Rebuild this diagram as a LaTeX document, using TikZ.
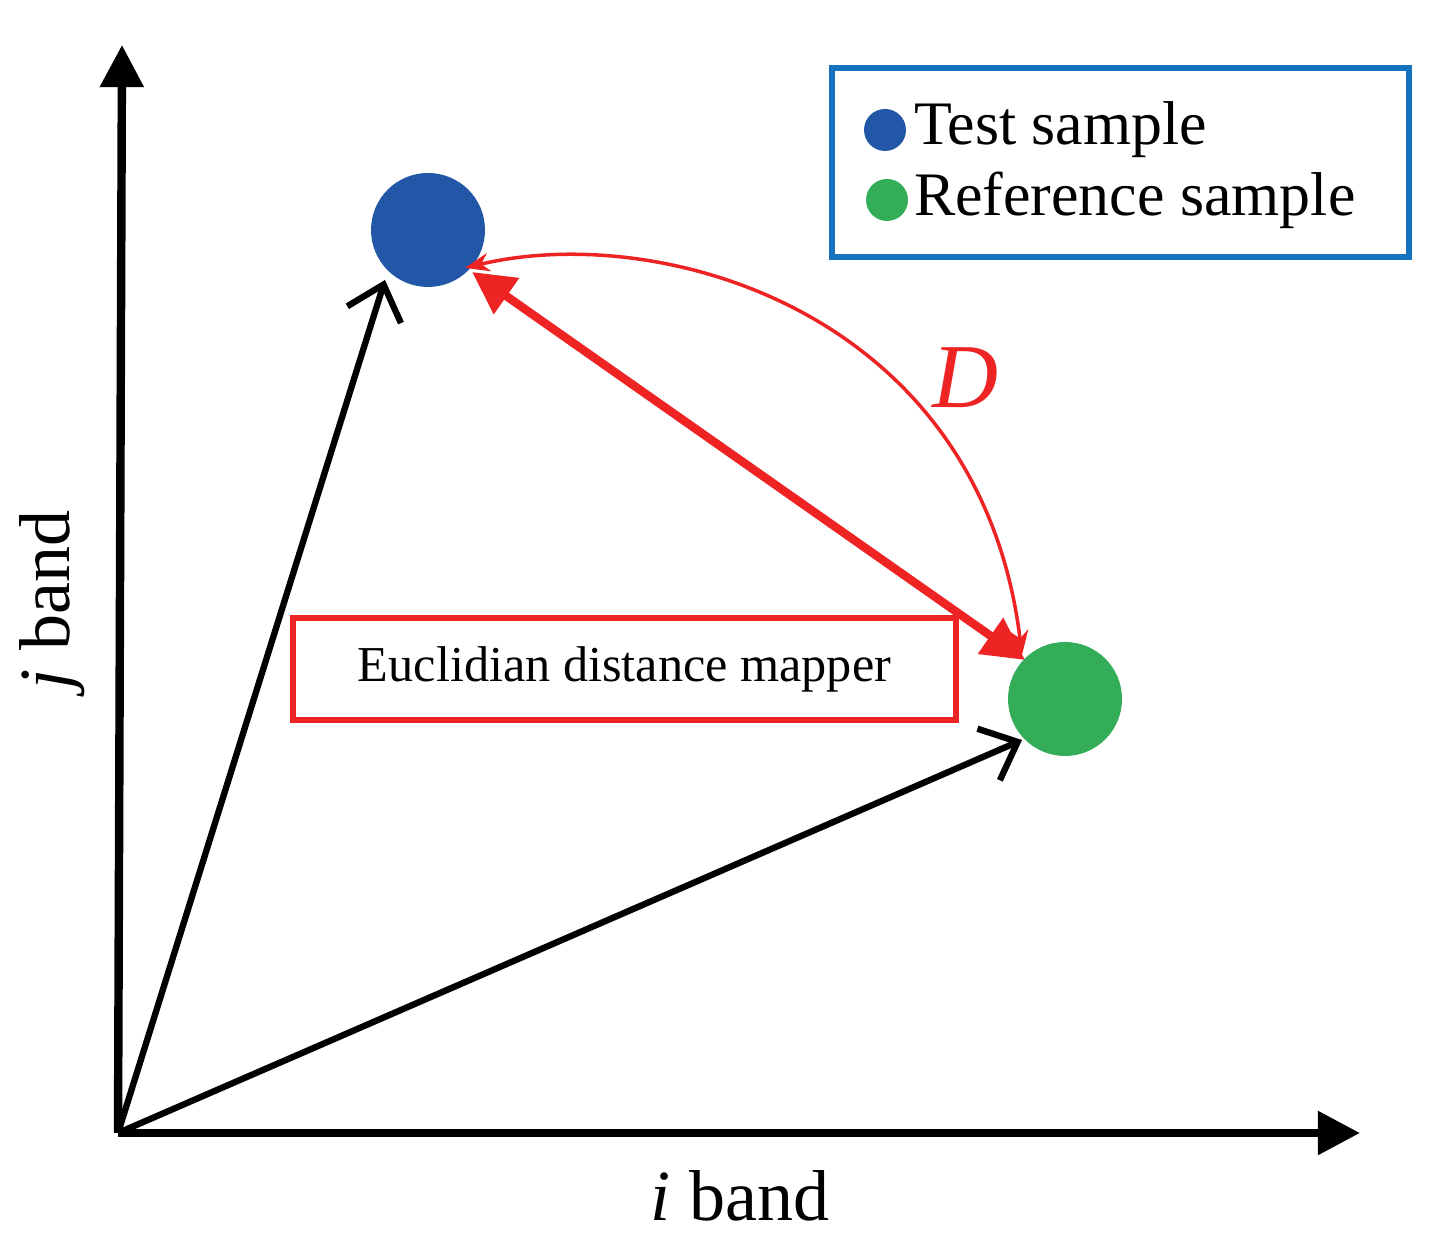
\documentclass[tikz,border=0pt]{standalone}
\usepackage{fontspec}
\setmainfont{Liberation Serif}
\usetikzlibrary{arrows.meta,positioning}
\definecolor{testblue}{RGB}{33,87,166}
\definecolor{refgreen}{RGB}{52,173,88}
\definecolor{mapred}{RGB}{237,35,36}
\definecolor{boxblue}{RGB}{20,114,190}
\tikzset{
	axis/.style={line width=2.4pt, -{Triangle[length=12pt,width=12pt]}},
	vec/.style={line width=1.8pt, -{Straight Barb[length=9pt,width=16pt]}},
	sample/.style={circle, inner sep=0pt, minimum size=1.14cm},
	marker/.style={circle, inner sep=0pt, minimum size=0.42cm}
}
\begin{document}
\begin{tikzpicture}
\useasboundingbox (0,0) rectangle (14.33,12.51);
% axes
\coordinate (O) at (1.18,1.18);
\coordinate (ytop) at (1.22,12.06);
\coordinate (xend) at (13.6,1.18);
\draw[axis] (O) -- (ytop);
\draw[axis] (O) -- (xend);
\node (xlabel) at (7.40,0.55) {\fontsize{20.5}{24}\selectfont \textit{i} band};
\node[rotate=90] (ylabel) at (0.52,6.51) {\fontsize{20.5}{24}\selectfont \textit{j} band};
% samples
\node[sample, fill=testblue] (test) at (4.28,10.21) {};
\node[sample, fill=refgreen] (ref) at (10.65,5.52) {};
\coordinate (testtip) at (3.85,9.71);
\coordinate (reftip) at (10.22,5.11);
\draw[vec] (O) -- (testtip);
\draw[vec] (O) -- (reftip);
% distance
\coordinate (da) at (4.72,9.79);
\coordinate (db) at (10.25,5.91);
\draw[mapred, line width=2.4pt, {Triangle[length=12pt,width=12pt]}-{Triangle[length=12pt,width=12pt]}] (da) -- (db);
\coordinate (arca) at (4.65,9.83);
\coordinate (arcb) at (10.22,5.96);
\draw[mapred, line width=1pt, {Stealth[length=7pt]}-{Stealth[length=7pt]}] (arca) .. controls (6.6,10.3) and (9.8,9.4) .. (arcb);
\node[text=mapred] (dist) at (9.65,8.73) {\fontsize{26}{30}\selectfont\textit{D}};
% mapper box
\node[draw=mapred, line width=1.5pt, minimum width=6.63cm, minimum height=1.02cm] (mapper) at (6.245,5.82) {\fontsize{14.3}{17}\selectfont Euclidian distance mapper};
% legend
\node[draw=boxblue, line width=1.5pt, minimum width=5.77cm, minimum height=1.89cm] (legend) at (11.205,10.885) {};
\node[marker, fill=testblue] (m1) at (8.85,11.21) {};
\node[marker, fill=refgreen] (m2) at (8.87,10.51) {};
\node[right=-0.05cm of m1] (t1) {\fontsize{17.6}{21}\selectfont Test sample};
\node[right=-0.07cm of m2] (t2) {\fontsize{17.6}{21}\selectfont Reference sample};
\end{tikzpicture}
\end{document}
